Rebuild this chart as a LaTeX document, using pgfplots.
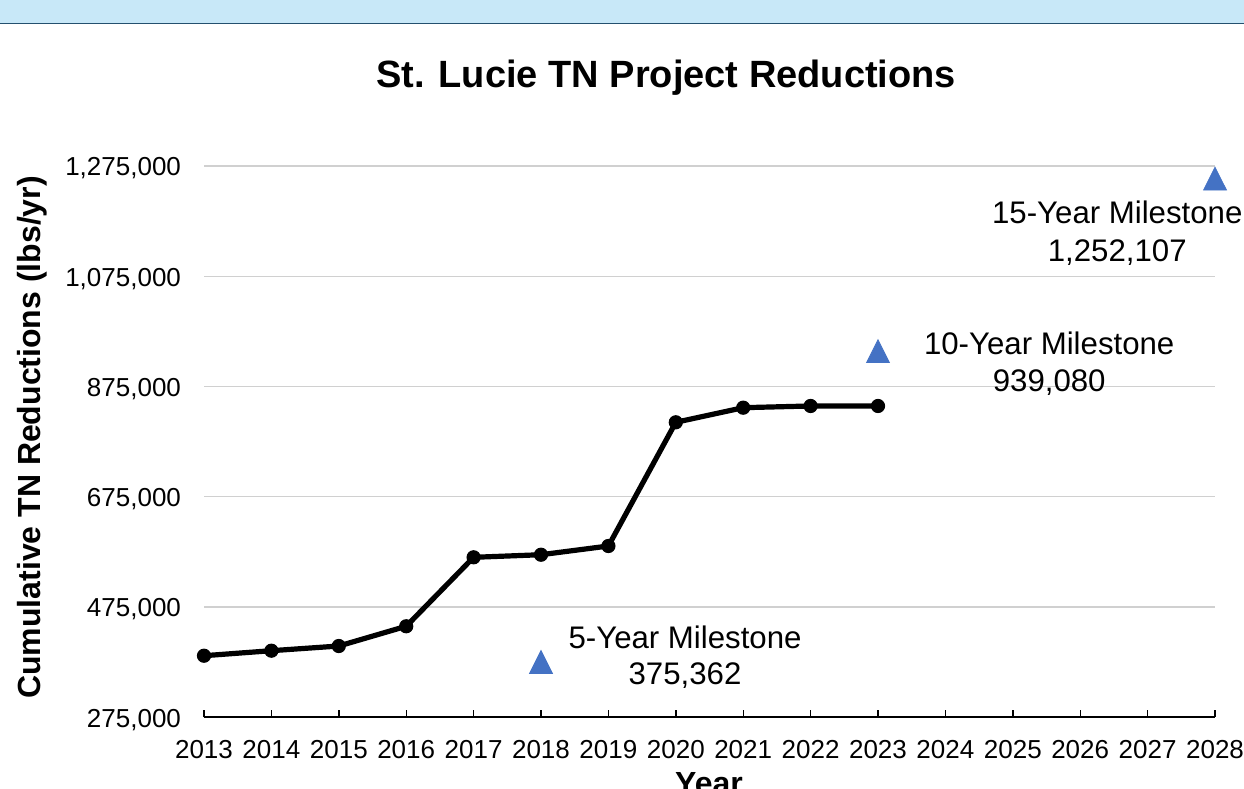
\documentclass[border=0pt]{standalone}
\usepackage{fontspec}
\setmainfont{Liberation Sans}
\usepackage{pgfplots}
\pgfplotsset{compat=1.18}
\definecolor{band}{HTML}{C8E8F8}
\definecolor{bandline}{HTML}{24506E}
\definecolor{mblue}{HTML}{4472C4}
\definecolor{gridc}{HTML}{D0D0D0}
\tikzset{lbl/.style={anchor=base, inner sep=0pt, font=\fontsize{15.6bp}{18bp}\selectfont}}
\begin{document}
\begin{tikzpicture}
\fill[band] (0,383.15bp) rectangle (622bp,394.5bp);
\draw[bandline, line width=0.9bp] (0,382.75bp) -- (622bp,382.75bp);
\begin{axis}[
  at={(102bp,35.85bp)}, anchor=south west,
  scale only axis, width=505.5bp, height=275.65bp,
  xmin=2013, xmax=2028, ymin=275000, ymax=1275000,
  enlargelimits=false, clip=false, scaled y ticks=false,
  axis x line*=bottom, axis y line*=left,
  y axis line style={draw=none},
  x axis line style={line width=1bp, -},
  xtick={2013,2014,2015,2016,2017,2018,2019,2020,2021,2022,2023,2024,2025,2026,2027,2028},
  xticklabels={2013,2014,2015,2016,2017,2018,2019,2020,2021,2022,2023,2024,2025,2026,2027,2028},
  ytick={275000,475000,675000,875000,1075000,1275000},
  yticklabels={{275,000},{475,000},{675,000},{875,000},{1,075,000},{1,275,000}},
  tick align=inside, major tick length=3.5bp,
  xtick style={line width=0.7bp, black},
  ytick style={draw=none},
  ymajorgrids, major grid style={gridc, line width=0.6bp},
  x tick label style={font=\fontsize{13bp}{15.6bp}\selectfont, anchor=north, yshift=-8.2bp},
  y tick label style={font=\fontsize{13bp}{15.6bp}\selectfont, anchor=east, xshift=-8bp, yshift=-1.2bp},
  every axis title shift=0pt,
  title={St. Lucie TN Project Reductions},
  title style={font=\fontsize{19bp}{22bp}\selectfont\bfseries, at={(axis description cs:0.457,1.1428)}, anchor=base},
  xlabel={Year},
  xlabel style={font=\fontsize{16bp}{19bp}\selectfont\bfseries, at={(axis description cs:0.4995,-0.1409)}, anchor=base},
  ylabel={Cumulative TN Reductions (lbs/yr)},
  ylabel style={font=\fontsize{16bp}{19bp}\selectfont\bfseries, at={(axis description cs:-0.1622,0.5075)}, anchor=base},
]
\addplot[black, line width=2.6bp, mark=*, mark size=3.3bp, mark options={line width=0.5bp}] coordinates {
  (2013,386700) (2014,395800) (2015,404300) (2016,440100) (2017,565200)
  (2018,569900) (2019,585700) (2020,810100) (2021,836600) (2022,839700) (2023,839700)
};
\addplot[only marks, mark=triangle*, mark size=6.6bp, color=mblue, mark options={yshift=-1.9bp, yscale=1.15}] coordinates {
  (2018,375362) (2023,939080) (2028,1252107)
};
\node[lbl] at (axis cs:2020.137,400700) {5-Year Milestone};
\node[lbl] at (axis cs:2020.137,333600) {375,362};
\node[lbl] at (axis cs:2025.54,933400) {10-Year Milestone};
\node[lbl] at (axis cs:2025.54,865600) {939,080};
\node[lbl] at (axis cs:2026.55,1169800) {15-Year Milestone};
\node[lbl] at (axis cs:2026.55,1100900) {1,252,107};
\end{axis}
\pgfresetboundingbox
\path[use as bounding box] (0,0) rectangle (622bp,394.5bp);
\end{tikzpicture}
\end{document}
